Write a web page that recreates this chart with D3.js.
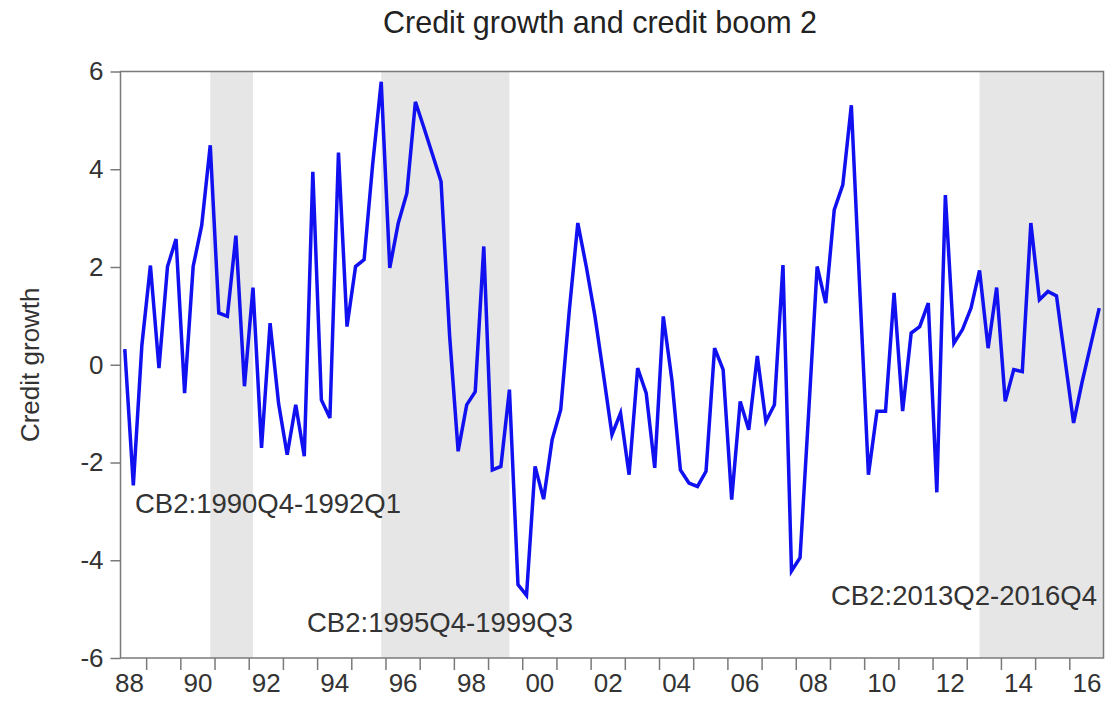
<!DOCTYPE html>
<html>
<head>
<meta charset="utf-8">
<script src="https://cdn.jsdelivr.net/npm/d3@7/dist/d3.min.js"></script>
<style>
  html, body { margin: 0; padding: 0; background: #fff; }
  svg { display: block; }
  text { font-family: "Liberation Sans", Arial, sans-serif; }
</style>
</head>
<body>
<svg id="chart" width="1105" height="701"></svg>
<script>
// ---- data ----
const chartTitle = "Credit growth and credit boom 2";
const yAxisTitle = "Credit growth";
const startYear = 1988, startQuarter = 2;   // first observation 1988Q2
const creditGrowth = [
  0.32, -2.47, 0.4, 2.03, -0.07, 2.01, 2.57, -0.58, 2.01, 2.85,
  4.49, 1.06, 0.99, 2.64, -0.44, 1.58, -1.70, 0.85, -0.8, -1.84,
  -0.82, -1.87, 3.95, -0.72, -1.09, 4.34, 0.78, 2.01, 2.15, 4.1,
  5.79, 1.98, 2.9, 3.51, 5.38, 4.85, 4.3, 3.75, 0.6, -1.77,
  -0.82, -0.55, 2.42, -2.15, -2.08, -0.51, -4.5, -4.72, -2.08, -2.75,
  -1.53, -0.92, 1.1, 2.9, 2.0, 1.0, -0.2, -1.43, -0.99, -2.25,
  -0.07, -0.58, -2.11, 0.99, -0.3, -2.15, -2.42, -2.49, -2.18, 0.34,
  -0.1, -2.76, -0.75, -1.33, 0.18, -1.16, -0.82, 2.04, -4.22, -3.95,
  -1.0, 2.01, 1.26, 3.17, 3.68, 5.31, 1.5, -2.25, -0.95, -0.95,
  1.47, -0.95, 0.65, 0.78, 1.26, -2.61, 3.47, 0.44, 0.72, 1.16,
  1.93, 0.34, 1.58, -0.75, -0.1, -0.14, 2.9, 1.33, 1.5, 1.41,
  0.1, -1.19, -0.35, 0.4, 1.16
];
const boomStarts = ["1990Q4", "1995Q4", "2013Q2"];
const boomEnds   = ["1992Q1", "1999Q3", "2016Q4"];
const boomLabels = ["CB2:1990Q4-1992Q1", "CB2:1995Q4-1999Q3", "CB2:2013Q2-2016Q4"];
const yTicks = [-6, -4, -2, 0, 2, 4, 6];
const yTickText = ["-6", "-4", "-2", "0", "2", "4", "6"];
const xTickYears = d3.range(1989, 2018);            // year boundaries
const xLabelYears = d3.range(1988, 2017, 2);         // labelled years
const xLabelText = ["88", "90", "92", "94", "96", "98", "00", "02", "04", "06", "08", "10", "12", "14", "16"];

(function () {
  // ---- helpers ----
  const periodIndex = p => {
    const yr = +p.slice(0, 4), q = +p.slice(5);
    return (yr - startYear) * 4 + (q - startQuarter);
  };
  const data = creditGrowth.map((v, i) => ({ i, v }));

  // ---- layout ----
  const svg = d3.select("#chart");
  const pL = 120.5, pR = 1103.5, pT = 71.5, pB = 658;
  const nSlots = creditGrowth.length;
  const x = d3.scaleLinear().domain([0, nSlots]).range([pL, pR]);
  const y = d3.scaleLinear().domain([-6, 6]).range([pB, pT]);
  const obsX = i => x(i + 0.5);
  const axisColor = "#7a7a7a";
  const textColor = "#333";
  const ff = '"Liberation Sans", Arial, sans-serif';

  // shading
  svg.append("g").selectAll("rect")
    .data(boomStarts.map((s, k) => ({ s: periodIndex(s), e: periodIndex(boomEnds[k]) })))
    .join("rect")
    .attr("x", d => obsX(d.s))
    .attr("y", pT)
    .attr("width", d => (d.e === nSlots - 1 ? pR : obsX(d.e)) - obsX(d.s))
    .attr("height", pB - pT)
    .attr("fill", "#e6e6e6");

  // frame
  svg.append("rect")
    .attr("x", pL).attr("y", pT)
    .attr("width", pR - pL).attr("height", pB - pT)
    .attr("fill", "none").attr("stroke", axisColor).attr("stroke-width", 1.5);

  // y axis
  const yAxis = svg.append("g").attr("transform", `translate(${pL},0)`)
    .call(d3.axisLeft(y).tickValues(yTicks).tickSize(10).tickPadding(7)
      .tickFormat((d, k) => yTickText[k]));
  yAxis.select(".domain").remove();
  yAxis.selectAll("line").attr("stroke", axisColor).attr("stroke-width", 1.5);
  yAxis.selectAll("text").attr("fill", textColor).style("font-size", "26px").style("font-family", ff);

  // x axis ticks (year boundaries)
  const xTickSlot = yr => (yr - startYear) * 4 - (startQuarter - 1);
  const xAxisT = svg.append("g").attr("transform", `translate(0,${pB})`)
    .call(d3.axisBottom(x).tickValues(xTickYears.map(xTickSlot).filter(s => s > 0 && s < nSlots))
      .tickSize(12).tickFormat(""));
  xAxisT.select(".domain").remove();
  xAxisT.selectAll("line").attr("stroke", axisColor).attr("stroke-width", 1.5);

  // x axis labels (year centres)
  const xAxisL = svg.append("g").attr("transform", `translate(0,${pB})`)
    .call(d3.axisBottom(x).tickValues(xLabelYears.map(yr => xTickSlot(yr) + 2))
      .tickSize(0).tickPadding(16).tickFormat((d, k) => xLabelText[k]));
  xAxisL.select(".domain").remove();
  xAxisL.selectAll("text").attr("fill", textColor).style("font-size", "26px").style("font-family", ff);

  // line
  svg.append("path")
    .datum(data)
    .attr("fill", "none")
    .attr("stroke", "#1010f0")
    .attr("stroke-width", 3.5)
    .attr("stroke-linejoin", "miter")
    .attr("d", d3.line().x(d => obsX(d.i)).y(d => y(d.v)));

  // annotations
  const annoPos = [[135, 513], [307, 632], [831, 605]];
  svg.append("g").selectAll("text")
    .data(boomLabels)
    .join("text")
    .attr("x", (d, k) => annoPos[k][0])
    .attr("y", (d, k) => annoPos[k][1])
    .attr("fill", textColor)
    .style("font-size", "27.5px")
    .text(d => d);

  // title
  svg.append("text")
    .attr("x", 600).attr("y", 33)
    .attr("text-anchor", "middle")
    .attr("fill", "#222")
    .style("font-size", "30.5px")
    .text(chartTitle);

  // y axis title
  svg.append("text")
    .attr("transform", `translate(39,${(pT + pB) / 2}) rotate(-90)`)
    .attr("text-anchor", "middle")
    .attr("fill", textColor)
    .style("font-size", "26px")
    .text(yAxisTitle);
})();
</script>
</body>
</html>
